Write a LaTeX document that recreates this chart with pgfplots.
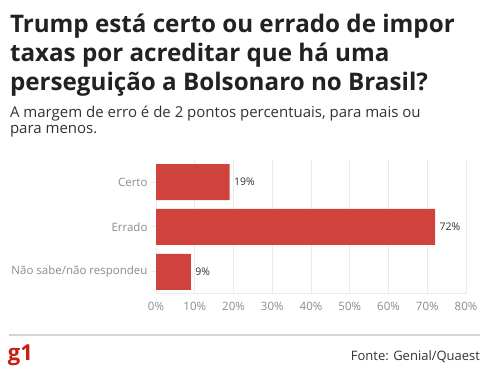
\documentclass[border=0pt]{standalone}
\usepackage{fontspec}
\setmainfont{Open Sans}
\usepackage{pgfplots}
\pgfplotsset{compat=1.18}
\definecolor{barred}{RGB}{208,67,60}
\definecolor{titlec}{RGB}{34,34,34}
\definecolor{subc}{RGB}{51,51,51}
\definecolor{tickc}{RGB}{140,140,140}
\definecolor{gridc}{RGB}{235,235,235}
\definecolor{logored}{RGB}{200,30,20}
\begin{document}
\begin{tikzpicture}[x=1pt,y=1pt]
\path[use as bounding box, fill=white] (0,0) rectangle (489,379);
\begin{scope}[every node/.style={inner sep=0pt, outer sep=0pt}]
\node[anchor=base west, font=\bfseries\fontsize{24.2}{29}\selectfont, text=titlec] at (10,346) {Trump está certo ou errado de impor};
\node[anchor=base west, font=\bfseries\fontsize{24.2}{29}\selectfont, text=titlec] at (10,317) {taxas por acreditar que há uma};
\node[anchor=base west, font=\bfseries\fontsize{24.2}{29}\selectfont, text=titlec] at (10,288) {perseguição a Bolsonaro no Brasil?};
\node[anchor=base west, font=\fontsize{15}{18}\selectfont, text=subc] at (10,261) {A margem de erro é de 2 pontos percentuais, para mais ou};
\node[anchor=base west, font=\fontsize{15}{18}\selectfont, text=subc] at (10,245) {para menos.};
\draw[color=gridc!80!gray, line width=2pt] (9,44) -- (480,44);
\node[anchor=base west, font=\bfseries\fontsize{22}{22}\selectfont, text=logored] at (8,18) {g1};
\node[anchor=base east, font=\fontsize{13}{13}\selectfont, text=subc] at (480,18) {Fonte: Genial/Quaest};
\end{scope}
\begin{axis}[
  at={(156pt,85pt)}, anchor=south west,
  scale only axis, width=310pt, height=134pt,
  xbar, bar width=36pt,
  xmin=0, xmax=80, ymin=-0.489, ymax=2.489, y dir=reverse,
  xtick={0,10,...,80},
  xticklabel={\pgfmathprintnumber{\tick}\%},
  ytick={0,1,2},
  yticklabels={Certo,Errado,Não sabe/não respondeu},
  axis x line*=bottom, axis y line*=left,
  x axis line style={draw=gridc, line width=1pt, -},
  y axis line style={draw=none},
  xmajorgrids, grid style={draw=gridc, line width=0.8pt},
  tick align=outside,
  xtick style={draw=none},
  ytick style={draw=gridc, line width=1pt},
  major tick length=5pt,
  tick label style={font=\fontsize{11.5}{12}\selectfont, text=tickc},
  /pgf/number format/assume math mode=true,
  nodes near coords={\pgfmathprintnumber{\pgfplotspointmeta}\%},
  nodes near coords style={font=\fontsize{10.5}{11}\selectfont, text=subc, anchor=west, xshift=1pt},
  clip=false,
]
\addplot[fill=barred, draw=none] coordinates {(19,0) (72,1) (9,2)};
\end{axis}
\end{tikzpicture}
\end{document}
